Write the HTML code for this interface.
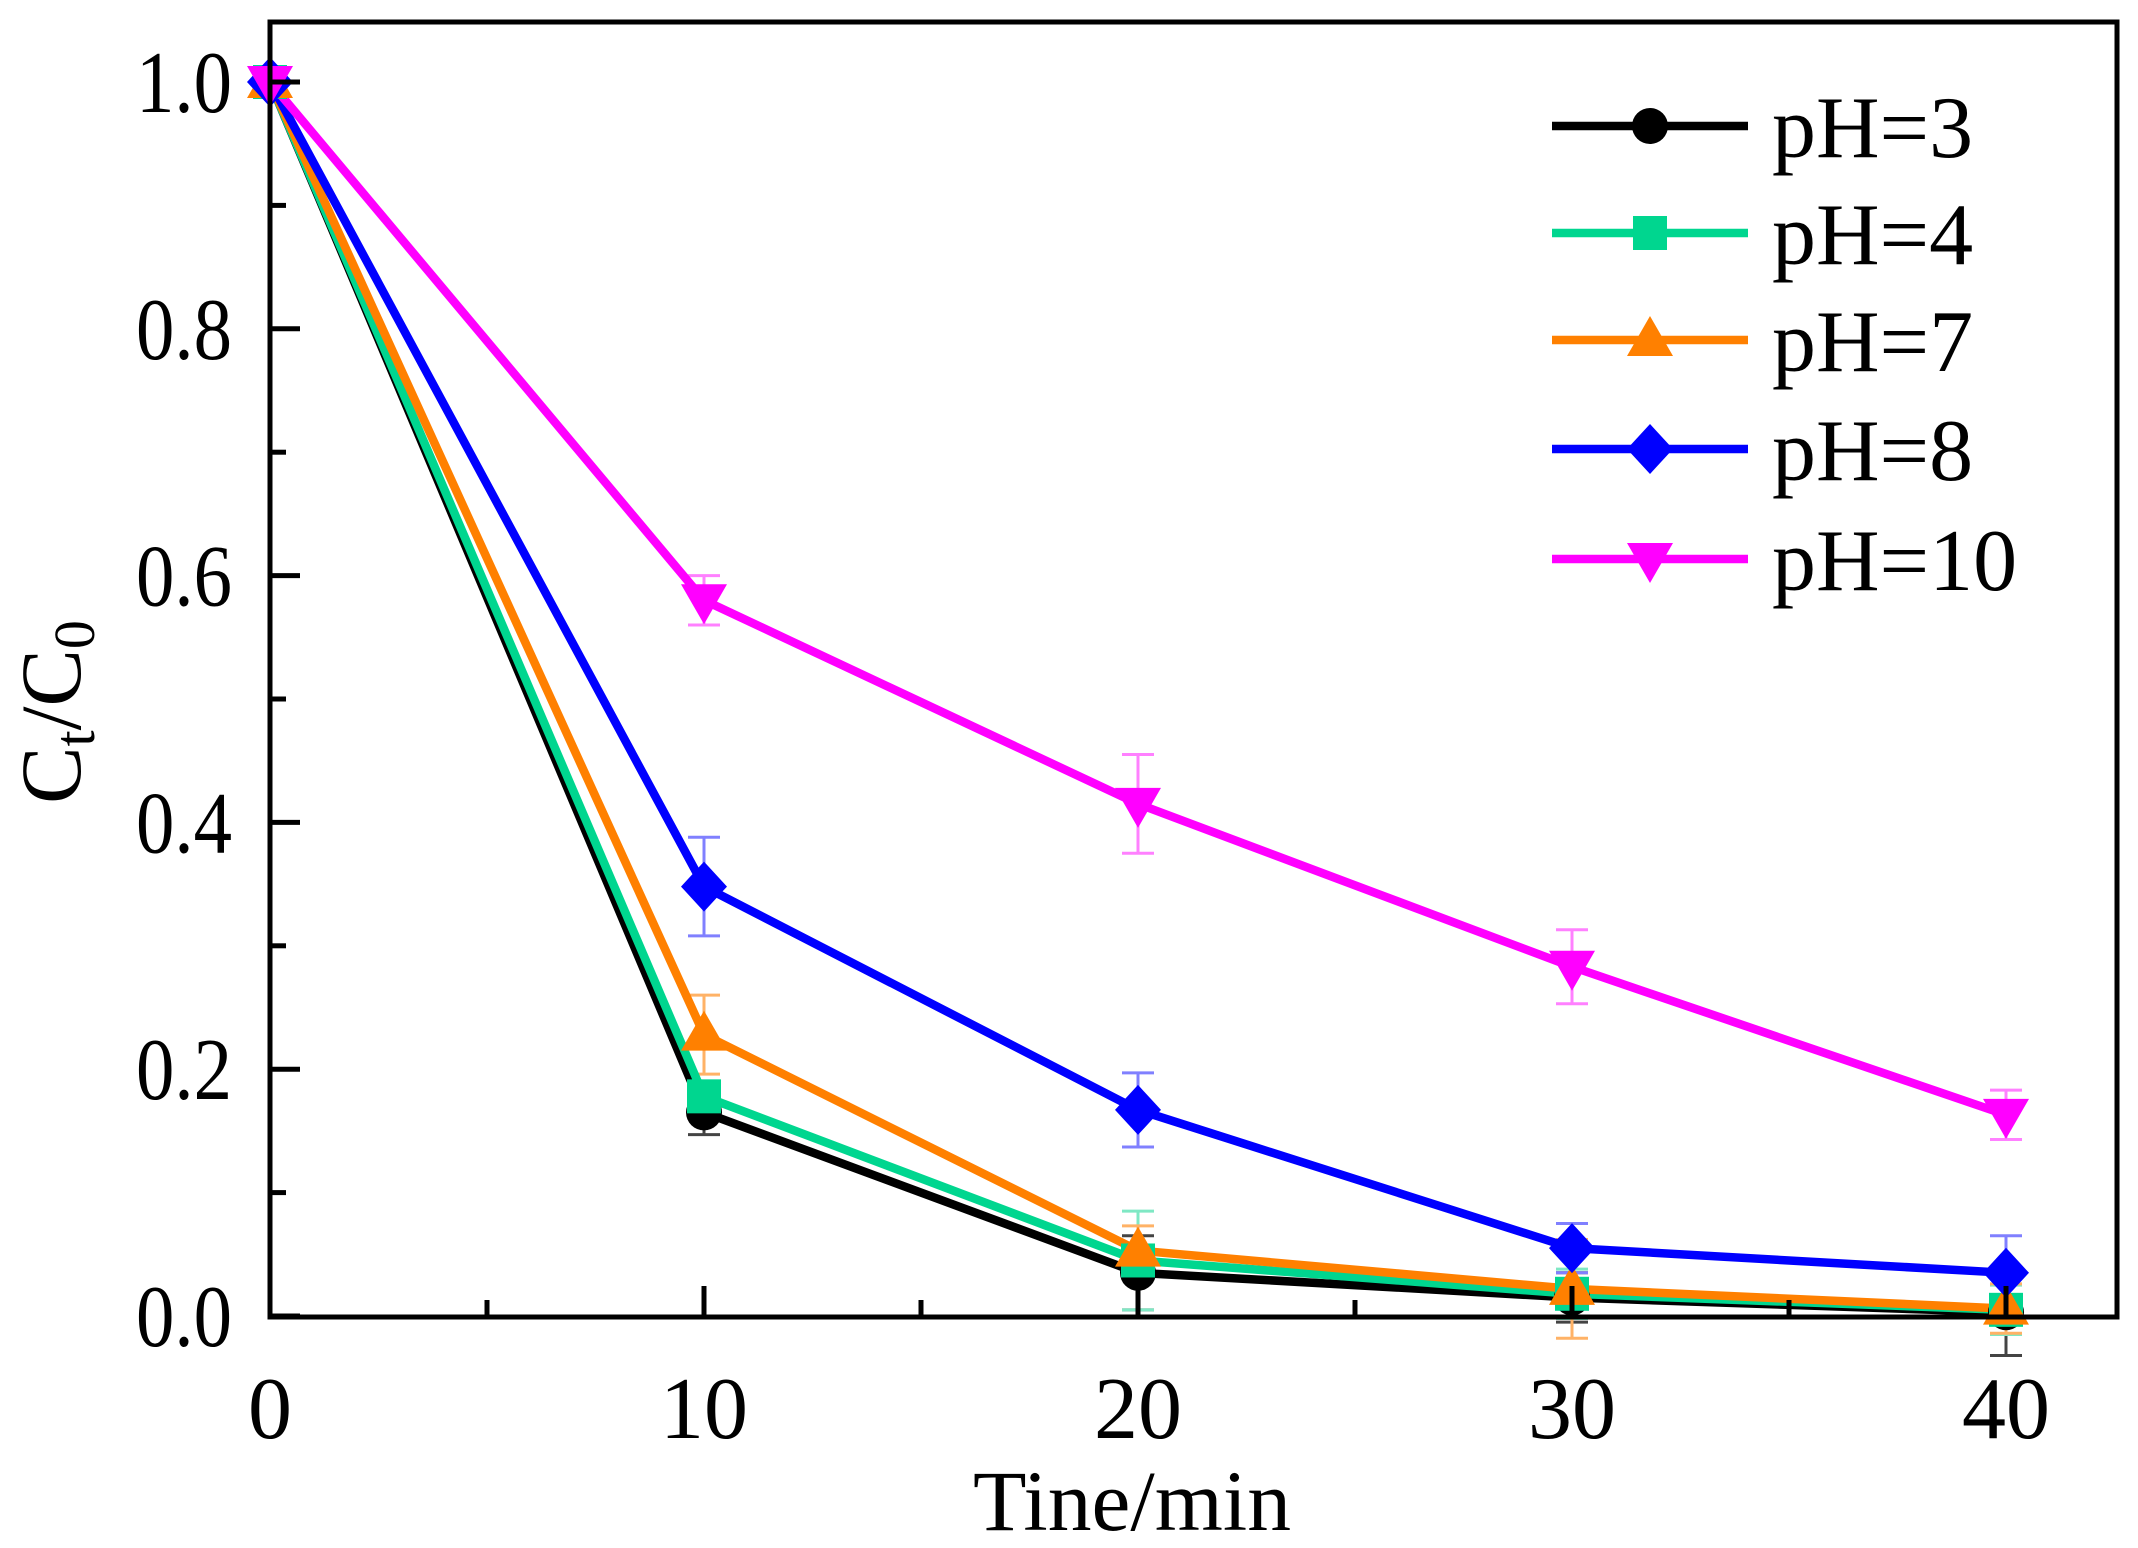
<!DOCTYPE html>
<html><head><meta charset="utf-8"><style>
html,body{margin:0;padding:0;background:#fff;}
svg{display:block;font-family:"Liberation Serif",serif;}
</style></head><body>
<svg id="chart" width="2138" height="1548" viewBox="0 0 2138 1548" xmlns="http://www.w3.org/2000/svg">
<g id="errs"></g>
<g id="lines"></g>
<g id="marks"></g>
<rect x="270" y="22" width="1847" height="1295" fill="none" stroke="#000" stroke-width="5"/>
<g id="axes"></g>
<text x="1132" y="1530" font-size="86" text-anchor="middle" textLength="318" lengthAdjust="spacingAndGlyphs">Tine/min</text>
<text transform="translate(80,712) rotate(-90)" font-size="86" text-anchor="middle">C<tspan font-size="58" dy="14">t</tspan><tspan dy="-14">/C</tspan><tspan font-size="58" dy="14">0</tspan></text>
<g id="legend"></g>
</svg>
<script>
const times = [0, 10, 20, 30, 40];
const seriesNames = ["pH=3", "pH=4", "pH=7", "pH=8", "pH=10"];
const pH3 = [1, 0.165, 0.035, 0.015, 0.003];
const pH4 = [1, 0.178, 0.045, 0.018, 0.005];
const pH7 = [1, 0.228, 0.053, 0.022, 0.006];
const pH8 = [1, 0.348, 0.167, 0.055, 0.035];
const pH10 = [1, 0.580, 0.415, 0.283, 0.163];
const err3 = [0, 0.018, 0.03, 0.02, 0.035];
const err4 = [0, 0.01, 0.04, 0.02, 0.02];
const err7 = [0, 0.032, 0.02, 0.04, 0.02];
const err8 = [0, 0.04, 0.03, 0.02, 0.03];
const err10 = [0, 0.02, 0.04, 0.03, 0.02];
const xTicks = [0, 10, 20, 30, 40];
const yTicks = [0, 0.2, 0.4, 0.6, 0.8, 1.0];
const yTickLabels = ["0.0", "0.2", "0.4", "0.6", "0.8", "1.0"];

const NS = "http://www.w3.org/2000/svg";
const X = v => 270 + v * 43.4;
const Y = v => 1316 - v * 1234;
const colors = ["#000000", "#00d68f", "#ff8000", "#0000ff", "#ff00ff"];
const errColors = ["#444444", "#7fe8c4", "#ffb266", "#8080ff", "#ff80ff"];
const shapes = ["circle", "square", "tri", "diamond", "tridown"];
const allVals = [pH3, pH4, pH7, pH8, pH10];
const allErrs = [err3, err4, err7, err8, err10];

function el(tag, attrs, parent) {
  const e = document.createElementNS(NS, tag);
  for (const k in attrs) e.setAttribute(k, attrs[k]);
  parent.appendChild(e);
  return e;
}
function marker(shape, cx, cy, color, parent) {
  let e;
  if (shape === "circle") e = el("circle", {cx, cy, r: 18, fill: color}, parent);
  else if (shape === "square") e = el("rect", {x: cx - 17, y: cy - 17, width: 34, height: 34, fill: color}, parent);
  else if (shape === "tri") e = el("polygon", {points: `${cx},${cy - 24} ${cx + 23},${cy + 16} ${cx - 23},${cy + 16}`, fill: color}, parent);
  else if (shape === "tridown") e = el("polygon", {points: `${cx},${cy + 24} ${cx + 23},${cy - 16} ${cx - 23},${cy - 16}`, fill: color}, parent);
  else e = el("polygon", {points: `${cx},${cy - 25} ${cx + 23},${cy} ${cx},${cy + 25} ${cx - 23},${cy}`, fill: color}, parent);
  return e;
}

const axes = document.getElementById("axes");
xTicks.forEach(t => {
  const tk = el("line", {x1: X(t), x2: X(t), y1: 1316, y2: 1286, stroke: "#000", "stroke-width": 5}, axes);
  
  
  const tx = el("text", {x: X(t), y: 1438, "font-size": 88, "text-anchor": "middle"}, axes);
  tx.textContent = t;
  
  
  if (t < 40) {
    const m = el("line", {x1: X(t + 5), x2: X(t + 5), y1: 1316, y2: 1300, stroke: "#000", "stroke-width": 5}, axes);
    
    
  }
});
yTicks.forEach((t, i) => {
  const tk = el("line", {x1: 270, x2: 300, y1: Y(t), y2: Y(t), stroke: "#000", "stroke-width": 5}, axes);
  
  
  const tx = el("text", {x: 232, y: Y(t) + 30, "font-size": 88, "text-anchor": "end", textLength: 96, lengthAdjust: "spacingAndGlyphs"}, axes);
  tx.textContent = yTickLabels[i];
  
  
  if (i < yTicks.length - 1) {
    const m = el("line", {x1: 270, x2: 286, y1: Y(t + 0.1), y2: Y(t + 0.1), stroke: "#000", "stroke-width": 5}, axes);
    
    
  }
});

const errs = document.getElementById("errs");
const lines = document.getElementById("lines");
const marks = document.getElementById("marks");
allVals.forEach((vals, s) => {
  vals.forEach((v, i) => {
    const e = allErrs[s][i];
    if (e > 0) {
      const g = el("g", {stroke: errColors[s], "stroke-width": 3}, errs);
      
      
      el("line", {x1: X(times[i]), x2: X(times[i]), y1: Y(v - e), y2: Y(v + e)}, g);
      el("line", {x1: X(times[i]) - 16, x2: X(times[i]) + 16, y1: Y(v - e), y2: Y(v - e)}, g);
      el("line", {x1: X(times[i]) - 16, x2: X(times[i]) + 16, y1: Y(v + e), y2: Y(v + e)}, g);
    }
  });
  const pts = vals.map((v, i) => X(times[i]) + "," + Y(v)).join(" ");
  const pl = el("polyline", {points: pts, fill: "none", stroke: colors[s], "stroke-width": 8.5, "stroke-linejoin": "round"}, lines);
  
  
  vals.forEach((v, i) => {
    const m = marker(shapes[s], X(times[i]), Y(v), colors[s], marks);
    
    
  });
});

const legend = document.getElementById("legend");
const legY = [126, 233, 340, 449, 559];
seriesNames.forEach((n, s) => {
  const g = el("g", {}, legend);
  
  
  el("line", {x1: 1552, x2: 1748, y1: legY[s], y2: legY[s], stroke: colors[s], "stroke-width": 8.5}, g);
  marker(shapes[s], 1650, legY[s], colors[s], g);
  const t = el("text", {x: 1772, y: legY[s] + 31, "font-size": 88}, g);
  t.textContent = n;
});
</script>
</body></html>
